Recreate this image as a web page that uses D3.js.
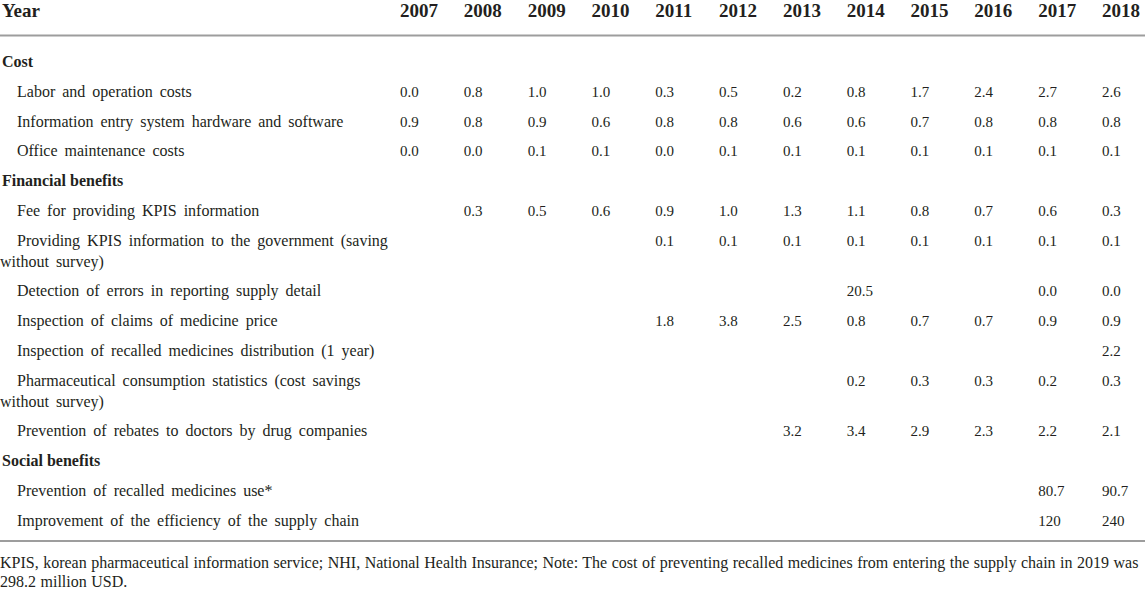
<!DOCTYPE html>
<html>
<head>
<meta charset="utf-8">
<script src="https://cdn.jsdelivr.net/npm/d3@7"></script>
<style>
  body { margin: 0; background: #fff; }
  text { font-family: "Liberation Serif", "DejaVu Serif", serif; fill: #231f20; }
</style>
</head>
<body>
<script>
// table data
const years = [2007, 2008, 2009, 2010, 2011, 2012, 2013, 2014, 2015, 2016, 2017, 2018];

const costLabels = [
    "Labor and operation costs",
    "Information entry system hardware and software",
    "Office maintenance costs"
];
const costValues = [
    [0.0, 0.8, 1.0, 1.0, 0.3, 0.5, 0.2, 0.8, 1.7, 2.4, 2.7, 2.6],
    [0.9, 0.8, 0.9, 0.6, 0.8, 0.8, 0.6, 0.6, 0.7, 0.8, 0.8, 0.8],
    [0.0, 0.0, 0.1, 0.1, 0.0, 0.1, 0.1, 0.1, 0.1, 0.1, 0.1, 0.1]
];

const financialLabels = [
    "Fee for providing KPIS information",
    "Providing KPIS information to the government (saving\nwithout survey)",
    "Detection of errors in reporting supply detail",
    "Inspection of claims of medicine price",
    "Inspection of recalled medicines distribution (1 year)",
    "Pharmaceutical consumption statistics (cost savings\nwithout survey)",
    "Prevention of rebates to doctors by drug companies"
];
const financialValues = [
    [null, 0.3, 0.5, 0.6, 0.9, 1.0, 1.3, 1.1, 0.8, 0.7, 0.6, 0.3],
    [null, null, null, null, 0.1, 0.1, 0.1, 0.1, 0.1, 0.1, 0.1, 0.1],
    [null, null, null, null, null, null, null, 20.5, null, null, 0.0, 0.0],
    [null, null, null, null, 1.8, 3.8, 2.5, 0.8, 0.7, 0.7, 0.9, 0.9],
    [null, null, null, null, null, null, null, null, null, null, null, 2.2],
    [null, null, null, null, null, null, null, 0.2, 0.3, 0.3, 0.2, 0.3],
    [null, null, null, null, null, null, 3.2, 3.4, 2.9, 2.3, 2.2, 2.1]
];

const socialLabels = [
    "Prevention of recalled medicines use*",
    "Improvement of the efficiency of the supply chain"
];
const socialValues = [
    [null, null, null, null, null, null, null, null, null, null, 80.7, 90.7],
    [null, null, null, null, null, null, null, null, null, null, 120, 240]
];

const sectionTitles = ["Cost", "Financial benefits", "Social benefits"];
const footnoteLines = [
    "KPIS, korean pharmaceutical information service; NHI, National Health Insurance; Note: The cost of preventing recalled medicines from entering the supply chain in 2019 was",
    "298.2 million USD."
];

// 尺寸
const width = 1145;
const height = 589;
const rowStep = 29.75;
const lineStep = 21;

const svg = d3.select("body")
    .append("svg")
    .attr("width", width)
    .attr("height", height);

const x = d3.scalePoint()
    .domain(years)
    .range([400, 1102]);

const fmt = v => v >= 100 ? d3.format("d")(v) : d3.format(".1f")(v);

// header
const header = svg.append("g");
header.append("text")
    .attr("x", 2)
    .attr("y", 17)
    .style("font-size", "19px")
    .style("font-weight", "bold")
    .text("Year");
header.selectAll(".yr")
    .data(years)
    .enter()
    .append("text")
    .attr("class", "yr")
    .attr("x", d => x(d))
    .attr("y", 17)
    .style("font-size", "19px")
    .style("font-weight", "bold")
    .text(d => d);

svg.append("line")
    .attr("x1", 0).attr("x2", width)
    .attr("y1", 35.5).attr("y2", 35.5)
    .attr("stroke", "#9d9d9d")
    .attr("stroke-width", 2);

// build rows
const sections = [
    { title: sectionTitles[0], labels: costLabels, values: costValues },
    { title: sectionTitles[1], labels: financialLabels, values: financialValues },
    { title: sectionTitles[2], labels: socialLabels, values: socialValues }
];
const rows = [];
let y = 67;
sections.forEach(s => {
    rows.push({ type: "section", label: s.title, y: y });
    y += rowStep;
    s.labels.forEach((lab, i) => {
        rows.push({ type: "item", label: lab, values: s.values[i], y: y });
        y += rowStep + (lab.split("\n").length - 1) * lineStep;
    });
});

const body = svg.append("g");
const rowG = body.selectAll(".row")
    .data(rows)
    .enter()
    .append("g")
    .attr("class", "row")
    .attr("transform", d => `translate(0,${d.y})`);

rowG.filter(d => d.type === "section")
    .append("text")
    .attr("x", 2)
    .style("font-size", "16px")
    .style("font-weight", "bold")
    .text(d => d.label);

const items = rowG.filter(d => d.type === "item");
items.append("text")
    .style("font-size", "16px")
    .style("word-spacing", "3px")
    .selectAll("tspan")
    .data(d => d.label.split("\n"))
    .enter()
    .append("tspan")
    .attr("x", (d, i) => i === 0 ? 17 : 0)
    .attr("y", (d, i) => i * lineStep)
    .text(d => d);

items.selectAll(".val")
    .data(d => d.values.map((v, i) => ({ year: years[i], v: v })).filter(e => e.v !== null))
    .enter()
    .append("text")
    .attr("class", "val")
    .attr("x", d => x(d.year))
    .style("font-size", "15px")
    .text(d => fmt(d.v));

svg.append("line")
    .attr("x1", 0).attr("x2", width)
    .attr("y1", 541).attr("y2", 541)
    .attr("stroke", "#9d9d9d")
    .attr("stroke-width", 2);

// 註解
svg.selectAll(".note")
    .data(footnoteLines)
    .enter()
    .append("text")
    .attr("class", "note")
    .attr("x", 0)
    .attr("y", (d, i) => 568 + i * 19)
    .style("font-size", "16px")
    .style("word-spacing", "0.5px")
    .text(d => d);
</script>
</body>
</html>
